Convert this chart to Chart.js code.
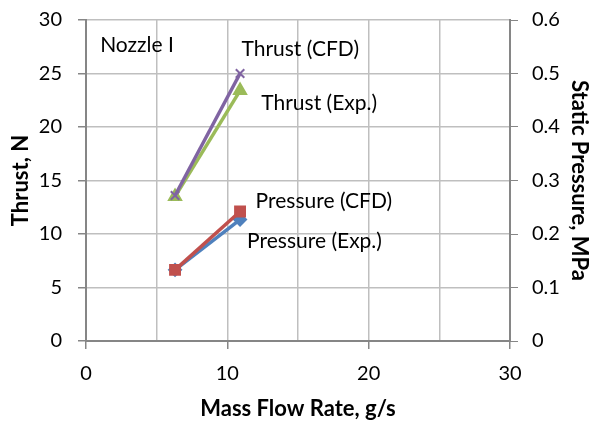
<!DOCTYPE html>
<html><head><meta charset="utf-8">
<script src="https://cdn.jsdelivr.net/npm/chart.js@4"></script>
<style>html,body{margin:0;padding:0;background:#fff}#w{width:598px;height:424px}</style>
</head><body><div id="w"><canvas id="c" width="598" height="424"></canvas></div>
<script>
const massFlow = [6.3, 10.9];
const thrustCFD = [13.6, 25.0];
const thrustExp = [13.5, 23.4];
const pressureCFD = [0.133, 0.242];
const pressureExp = [0.133, 0.227];
const xTicks = [0, 10, 20, 30];
const xGrid = [0, 5, 10, 15, 20, 25, 30];
const leftTicks = [0, 5, 10, 15, 20, 25, 30];
const rightTicks = [0, 0.1, 0.2, 0.3, 0.4, 0.5, 0.6];
const noteLabels = [
  {text: 'Nozzle I', x: 1.0, y: 27.6, axis: 'y'},
  {text: 'Thrust (CFD)', x: 11.0, y: 27.3, axis: 'y'},
  {text: 'Thrust (Exp.)', x: 12.4, y: 22.2, axis: 'y'},
  {text: 'Pressure (CFD)', x: 12.0, y: 0.262, axis: 'y2'},
  {text: 'Pressure (Exp.)', x: 11.4, y: 0.187, axis: 'y2'}
];
const FONT = 'Lato, "Open Sans", sans-serif';
const pts = (ys) => massFlow.map((x, i) => ({x, y: ys[i]}));

const labelPlugin = {
  id: 'notes',
  afterDatasetsDraw(chart) {
    const ctx = chart.ctx;
    ctx.save();
    ctx.font = '21px ' + FONT;
    ctx.fillStyle = '#000';
    ctx.textBaseline = 'middle';
    ctx.textAlign = 'left';
    noteLabels.forEach(l => {
      const px = chart.scales.x.getPixelForValue(l.x);
      const py = chart.scales[l.axis].getPixelForValue(l.y);
      ctx.fillText(l.text, px, py);
    });
    ctx.restore();
  }
};

const ds = (label, data, color, style, axis, order, radius) => ({
  label, data, yAxisID: axis, borderColor: color, backgroundColor: color,
  pointStyle: style, pointRadius: radius, pointBorderWidth: 2,
  pointBorderColor: color, pointBackgroundColor: color,
  borderWidth: 3.5, order, showLine: true, fill: false, tension: 0
});

const noVPad = (s, w) => { s.width = w; s.paddingTop = 0; s.paddingBottom = 0; };

new Chart(document.getElementById('c'), {
  type: 'scatter',
  data: { datasets: [
    ds('Thrust (CFD)', pts(thrustCFD), '#8064A2', 'crossRot', 'y', 1, 6),
    ds('Thrust (Exp.)', pts(thrustExp), '#9BBB59', 'triangle', 'y', 2, 7),
    ds('Pressure (CFD)', pts(pressureCFD), '#C0504D', 'rect', 'y2', 3, 7),
    ds('Pressure (Exp.)', pts(pressureExp), '#4F81BD', 'rectRot', 'y2', 4, 6)
  ]},
  options: {
    responsive: false, animation: false,
    layout: {padding: {top: 20, bottom: 0, left: 4, right: 6}},
    plugins: {legend: {display: false}, tooltip: {enabled: false}},
    scales: {
      x: {
        type: 'linear', min: 0, max: 30,
        afterBuildTicks: (s) => { s.ticks = xGrid.map(v => ({value: v})); },
        ticks: {
          font: {size: 20, family: FONT}, color: '#000', padding: 13,
          callback: (v) => xTicks.includes(v) ? String(v) : ''
        },
        grid: {color: '#BFBFBF', lineWidth: 1.5, tickLength: 8,
          tickColor: (c) => xTicks.includes(c.tick && c.tick.value) ? '#868686' : 'rgba(0,0,0,0)'},
        border: {color: '#868686', width: 2},
        title: {display: true, text: 'Mass Flow Rate, g/s', font: {size: 22, weight: 'bold', family: FONT}, color: '#000', padding: {top: 4, bottom: 2}},
        afterFit: (s) => { s.height = 83; }
      },
      y: {
        position: 'left', min: 0, max: 30,
        afterBuildTicks: (s) => { s.ticks = leftTicks.map(v => ({value: v})); },
        ticks: {font: {size: 20, family: FONT}, color: '#000', padding: 16},
        grid: {color: '#BFBFBF', lineWidth: 1.5, tickLength: 8, tickColor: '#868686'},
        border: {color: '#868686', width: 2},
        title: {display: true, text: 'Thrust, N', font: {size: 22, weight: 'bold', family: FONT}, color: '#000', padding: {bottom: 0}},
        afterFit: (s) => noVPad(s, 82)
      },
      y2: {
        position: 'right', min: 0, max: 0.6,
        afterBuildTicks: (s) => { s.ticks = rightTicks.map(v => ({value: v})); },
        ticks: {font: {size: 20, family: FONT}, color: '#000', padding: 14,
          callback: (v) => String(Math.round(v * 10) / 10)},
        grid: {drawOnChartArea: false, tickLength: 8, tickColor: '#868686'},
        border: {color: '#868686', width: 2},
        title: {display: true, text: 'Static Pressure, MPa', font: {size: 22, weight: 'bold', family: FONT}, color: '#000', padding: {top: 0}},
        afterFit: (s) => noVPad(s, 82)
      }
    }
  },
  plugins: [labelPlugin]
});
</script></body></html>
